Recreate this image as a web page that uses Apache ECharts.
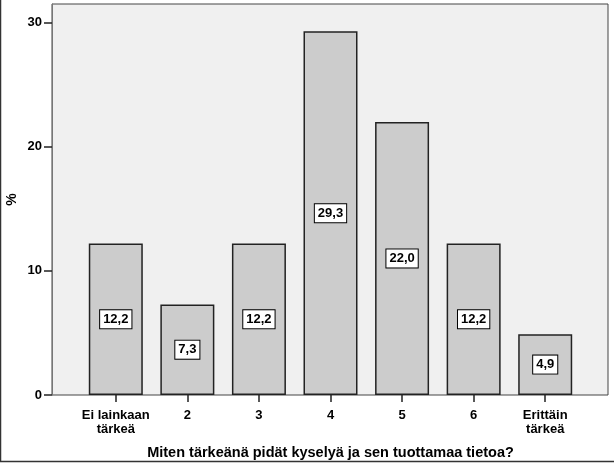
<!DOCTYPE html>
<html>
<head>
<meta charset="utf-8">
<script src="https://cdn.jsdelivr.net/npm/echarts@6/dist/echarts.min.js"></script>
<style>
  html, body { margin: 0; padding: 0; background: #fff; }
  #chart { width: 614px; height: 463px; }
</style>
</head>
<body>
<div id="chart"></div>
<script>
const categories = ['Ei lainkaan\ntärkeä', '2', '3', '4', '5', '6', 'Erittäin\ntärkeä']
const percents = [12.2, 7.3, 12.2, 29.3, 22.0, 12.2, 4.9]
const yTicks = [0, 10, 20, 30]
const yMax = 31.5

const font = 'Liberation Sans, Arial, sans-serif'

const chart = echarts.init(document.getElementById('chart'))

chart.setOption({
  animation: false,
  backgroundColor: '#fff',
  grid: [
    // plot frame and y axis
    { left: 52, right: 6, top: 4, bottom: 68, outerBoundsMode: 'none', containLabel: false,
      show: true, backgroundColor: '#f0f0f0', borderColor: '#444', borderWidth: 1 },
    // bars, with padding at both ends
    { left: 80, right: 33, top: 4, bottom: 68, outerBoundsMode: 'none', containLabel: false },
  ],
  xAxis: [
    { gridIndex: 0, type: 'value', show: false, min: 0, max: 1 },
    {
      gridIndex: 1,
      type: 'category',
      data: categories,
      axisLine: { show: false },
      axisTick: { show: true, inside: false, alignWithLabel: true, length: 7, lineStyle: { color: '#222', width: 1.5 } },
      axisLabel: { interval: 0, margin: 13, color: '#000', fontFamily: font, fontWeight: 'bold', fontSize: 13, lineHeight: 14 },
      name: 'Miten tärkeänä pidät kyselyä ja sen tuottamaa tietoa?',
      nameLocation: 'middle',
      nameGap: 50,
      nameMoveOverlap: false,
      nameTextStyle: { color: '#000', fontFamily: font, fontWeight: 'bold', fontSize: 14.5 },
    },
  ],
  yAxis: [
    {
      gridIndex: 0,
      type: 'value',
      min: 0,
      max: yMax,
      splitLine: { show: false },
      axisLine: { show: true, lineStyle: { color: '#777', width: 1 } },
      axisTick: { show: true, inside: false, length: 8, customValues: yTicks, lineStyle: { color: '#222', width: 1.5 } },
      axisLabel: { customValues: yTicks, margin: 10, color: '#000', fontFamily: font, fontWeight: 'bold', fontSize: 13 },
      name: '%',
      nameLocation: 'middle',
      nameGap: 33,
      nameRotate: 90,
      nameMoveOverlap: false,
      nameTextStyle: { color: '#000', fontFamily: font, fontWeight: 'bold', fontSize: 14 },
    },
    { gridIndex: 1, type: 'value', min: 0, max: yMax, show: false },
  ],
  series: [
    {
      type: 'bar',
      xAxisIndex: 1,
      yAxisIndex: 1,
      data: percents,
      barWidth: 54,
      itemStyle: { color: '#cccccc', borderColor: '#222', borderWidth: 1.5 },
      label: {
        show: true,
        position: 'inside',
        formatter: (p) => p.value.toFixed(1).replace('.', ','),
        color: '#000',
        fontFamily: font,
        fontWeight: 'bold',
        fontSize: 13,
        backgroundColor: '#fff',
        borderColor: '#000',
        borderWidth: 1,
        padding: [3, 3, 2, 3],
      },
    },
  ],
  graphic: [
    // outer frame edges
    { type: 'line', shape: { x1: 0.5, y1: 0, x2: 0.5, y2: 462 }, style: { stroke: '#333', lineWidth: 1.5 } },
    { type: 'line', shape: { x1: 0, y1: 461.5, x2: 614, y2: 461.5 }, style: { stroke: '#333', lineWidth: 1.5 } },
  ],
})
</script>
</body>
</html>
